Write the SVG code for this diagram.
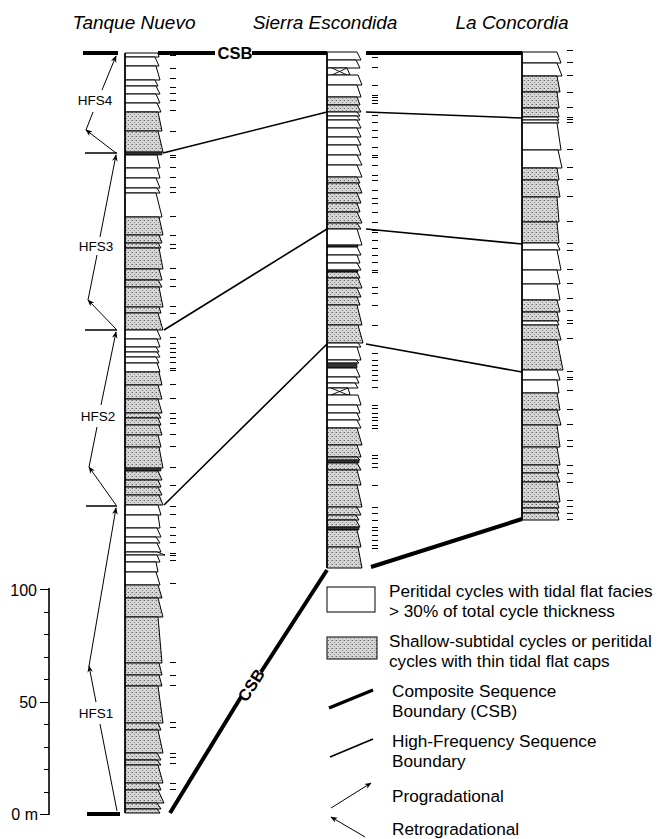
<svg xmlns="http://www.w3.org/2000/svg" width="665" height="839" viewBox="0 0 665 839">
<style>
text{font-family:"Liberation Sans",Arial,sans-serif;fill:#000}
.ttl{font-size:19px;font-style:italic;text-anchor:middle}
.lg{font-size:17.2px}
.hl{font-size:13.5px;text-anchor:middle}
.sc{font-size:16px;text-anchor:end}
.w{fill:#fff;stroke:#000;stroke-width:1}
.g{fill:url(#stip);stroke:#000;stroke-width:1}
.d{fill:#333;stroke:#000;stroke-width:.6}
.tk{stroke:#000;stroke-width:1;fill:none;shape-rendering:crispEdges}
.csb{stroke:#000;stroke-width:4;fill:none}
.hfs{stroke:#000;stroke-width:1.6;fill:none}
.ar{stroke:#000;stroke-width:1;fill:none}
.ae{marker-end:url(#ah)}
.edge{stroke:#000;stroke-width:1.6}
</style>
<defs>
<pattern id="stip" width="4" height="4" patternUnits="userSpaceOnUse">
<rect width="4" height="4" fill="#d6d6d6"/>
<rect x="0" y="0" width="1" height="1" fill="#666"/>
<rect x="2" y="2" width="1" height="1" fill="#888"/>
<rect x="3" y="0" width="1" height="1" fill="#aaa"/>
</pattern>
<marker id="ah" viewBox="0 0 10 10" refX="9" refY="5" markerWidth="7" markerHeight="7" markerUnits="userSpaceOnUse" orient="auto">
<path d="M0,1 L10,5 L0,9 L3,5 z" fill="#000"/>
</marker>
</defs>
<rect width="665" height="839" fill="#fff"/>

<g id="titles">
<text class="ttl" x="134" y="29">Tanque Nuevo</text>
<text class="ttl" x="325" y="29">Sierra Escondida</text>
<text class="ttl" x="512" y="29">La Concordia</text>
</g>

<g id="scale">
<path class="edge" d="M49 588V815"/>
<path class="tk" d="M40 814.5h9M44 792.5h5M44 769.5h5M44 747.5h5M44 724.5h5M40 702.5h9M44 679.5h5M44 657.5h5M44 634.5h5M44 612.5h5M40 589.5h9"/>
<text class="sc" x="37" y="596">100</text>
<text class="sc" x="37" y="708">50</text>
<text class="sc" x="38" y="820">0 m</text>
</g>

<g id="col-tanque-nuevo">
<polygon class="w" points="125,53 158,53 159,57 125,57"/>
<polygon class="w" points="125,57 155,57 159,66 125,66"/>
<polygon class="w" points="125,66 156,66 160,80 125,80"/>
<polygon class="w" points="125,80 155,80 158,86 125,86"/>
<polygon class="w" points="125,86 156,86 160,94 125,94"/>
<polygon class="w" points="125,94 156,94 160,103 125,103"/>
<polygon class="w" points="125,103 157,103 161,112 125,112"/>
<polygon class="g" points="125,112 158,112 162,131 125,131"/>
<polygon class="g" points="125,131 158,131 163,152 125,152"/>
<polygon class="d" points="125,152 162,152 162,155 125,155"/>
<polygon class="w" points="125,155 157,155 160,168 125,168"/>
<polygon class="w" points="125,168 157,168 160,178 125,178"/>
<polygon class="w" points="125,178 156,178 160,188 125,188"/>
<polygon class="w" points="125,188 157,188 160,193 125,193"/>
<polygon class="w" points="125,193 156,193 162,217 125,217"/>
<polygon class="g" points="125,217 159,217 163,235 125,235"/>
<polygon class="g" points="125,235 159,235 162,243 125,243"/>
<polygon class="g" points="125,243 158,243 161,248 125,248"/>
<polygon class="g" points="125,248 159,248 163,269 125,269"/>
<polygon class="g" points="125,269 159,269 162,280 125,280"/>
<polygon class="g" points="125,280 158,280 162,287 125,287"/>
<polygon class="g" points="125,287 159,287 163,307 125,307"/>
<polygon class="g" points="125,307 159,307 161,313 125,313"/>
<polygon class="g" points="125,313 158,313 163,330 125,330"/>
<polygon class="w" points="125,330 157,330 161,339 125,339"/>
<polygon class="w" points="125,339 157,339 160,347 125,347"/>
<polygon class="w" points="125,347 156,347 159,352 125,352"/>
<polygon class="w" points="125,352 157,352 160,357 125,357"/>
<polygon class="w" points="125,357 156,357 159,363 125,363"/>
<polygon class="w" points="125,363 157,363 160,372 125,372"/>
<polygon class="g" points="125,372 159,372 162,385 125,385"/>
<polygon class="g" points="125,385 158,385 162,399 125,399"/>
<polygon class="g" points="125,399 158,399 162,413 125,413"/>
<polygon class="g" points="125,413 158,413 161,418 125,418"/>
<polygon class="g" points="125,418 158,418 161,425 125,425"/>
<polygon class="g" points="125,425 159,425 162,435 125,435"/>
<polygon class="g" points="125,435 158,435 161,447 125,447"/>
<polygon class="g" points="125,447 159,447 163,468 125,468"/>
<polygon class="d" points="125,468 161,468 161,471 125,471"/>
<polygon class="g" points="125,471 158,471 162,480 125,480"/>
<polygon class="g" points="125,480 158,480 161,487 125,487"/>
<polygon class="g" points="125,487 158,487 162,495 125,495"/>
<polygon class="g" points="125,495 159,495 163,505 125,505"/>
<polygon class="w" points="125,505 158,505 161,515 125,515"/>
<polygon class="w" points="125,515 158,515 160,528 125,528"/>
<polygon class="w" points="125,528 157,528 161,537 125,537"/>
<polygon class="w" points="125,537 156,537 160,543 125,543"/>
<polygon class="w" points="125,543 157,543 161,552 125,552"/>
<polygon class="w" points="125,552 157,552 165,555 125,555"/>
<polygon class="w" points="125,555 157,555 160,562 125,562"/>
<polygon class="w" points="125,562 156,562 158,572 125,572"/>
<polygon class="w" points="125,572 156,572 160,585 125,585"/>
<polygon class="g" points="125,585 158,585 162,598 125,598"/>
<polygon class="g" points="125,598 158,598 163,617 125,617"/>
<polygon class="g" points="125,617 158,617 162,663 125,663"/>
<polygon class="g" points="125,663 159,663 162,675 125,675"/>
<polygon class="g" points="125,675 159,675 162,686 125,686"/>
<polygon class="g" points="125,686 158,686 163,723 125,723"/>
<polygon class="g" points="125,723 158,723 161,730 125,730"/>
<polygon class="g" points="125,730 158,730 163,753 125,753"/>
<polygon class="g" points="125,753 157,753 161,760 125,760"/>
<polygon class="g" points="125,760 157,760 161,765 125,765"/>
<polygon class="g" points="125,765 158,765 163,783 125,783"/>
<polygon class="g" points="125,783 158,783 161,790 125,790"/>
<polygon class="g" points="125,790 158,790 164,803 125,803"/>
<polygon class="g" points="125,803 157,803 161,809 125,809"/>
<polygon class="g" points="125,809 157,809 160,813 125,813"/>
<path class="edge" d="M125 53V813"/>
<path class="tk" d="M170 55h6M170 68h6M170 78h6M170 87h6M170 93h6M170 100h6M170 110h6M170 131h6M170 155h6M170 157h6M170 167h6M170 177h6M170 187h6M170 192h6M170 216h6M170 235h6M170 244h6M170 248h6M170 268h6M170 279h6M170 286h6M170 306h6M170 313h6M170 337h6M170 343h6M170 348h6M170 352h6M170 357h6M170 362h6M170 368h6M170 370h6M170 384h6M170 398h6M170 413h6M170 418h6M170 423h6M170 434h6M170 446h6M170 467h6M170 485h6M170 506h6M170 514h6M170 527h6M170 535h6M170 542h6M170 553h6M170 555h6M170 560h6M170 583h6M170 662h6M170 675h6M170 685h6M170 722h6M170 727h6M170 753h6M170 757h6M170 763h6M170 783h6M170 789h6"/>
</g>

<g id="col-sierra-escondida">
<polygon class="w" points="327,52 357,52 361,60 327,60"/>
<polygon class="w" points="327,60 356,60 360,68 327,68"/>
<polygon class="w" points="327,68 347,68 350,75 327,75"/>
<path d="M332 68L347 75M332 75L347 68" stroke="#000" stroke-width=".9"/>
<polygon class="w" points="327,75 358,75 362,85 327,85"/>
<polygon class="w" points="327,85 357,85 361,97 327,97"/>
<polygon class="g" points="327,97 357,97 360,105 327,105"/>
<polygon class="g" points="327,105 357,105 361,112 327,112"/>
<polygon class="w" points="327,112 357,112 360,116 327,116"/>
<polygon class="w" points="327,116 357,116 360,120 327,120"/>
<polygon class="w" points="327,120 357,120 361,128 327,128"/>
<polygon class="w" points="327,128 357,128 361,137 327,137"/>
<polygon class="w" points="327,137 357,137 361,145 327,145"/>
<polygon class="w" points="327,145 357,145 361,155 327,155"/>
<polygon class="w" points="327,155 357,155 362,165 327,165"/>
<polygon class="w" points="327,165 357,165 362,177 327,177"/>
<polygon class="g" points="327,177 357,177 360,183 327,183"/>
<polygon class="g" points="327,183 358,183 362,193 327,193"/>
<polygon class="g" points="327,193 357,193 361,203 327,203"/>
<polygon class="g" points="327,203 357,203 360,212 327,212"/>
<polygon class="g" points="327,212 357,212 362,223 327,223"/>
<polygon class="g" points="327,223 357,223 361,229 327,229"/>
<polygon class="w" points="327,229 357,229 362,245 327,245"/>
<polygon class="d" points="327,245 358,245 358,247 327,247"/>
<polygon class="w" points="327,247 357,247 361,255 327,255"/>
<polygon class="w" points="327,255 357,255 360,263 327,263"/>
<polygon class="w" points="327,263 357,263 361,270 327,270"/>
<polygon class="d" points="327,270 358,270 358,272 327,272"/>
<polygon class="g" points="327,272 357,272 360,278 327,278"/>
<polygon class="g" points="327,278 358,278 362,288 327,288"/>
<polygon class="g" points="327,288 357,288 361,297 327,297"/>
<polygon class="g" points="327,297 357,297 360,305 327,305"/>
<polygon class="g" points="327,305 357,305 362,325 327,325"/>
<polygon class="g" points="327,325 358,325 363,343 327,343"/>
<polygon class="w" points="327,343 358,343 361,347 327,347"/>
<polygon class="w" points="327,347 357,347 361,360 327,360"/>
<polygon class="w" points="327,360 356,360 359,363 327,363"/>
<polygon class="d" points="327,363 357,363 357,368 327,368"/>
<polygon class="w" points="327,368 356,368 360,377 327,377"/>
<polygon class="w" points="327,377 356,377 359,383 327,383"/>
<polygon class="w" points="327,383 355,383 358,388 327,388"/>
<polygon class="w" points="327,388 348,388 350,395 327,395"/>
<path d="M331 388L348 395M331 395L348 388" stroke="#000" stroke-width=".9"/>
<polygon class="w" points="327,395 358,395 361,405 327,405"/>
<polygon class="w" points="327,405 357,405 360,413 327,413"/>
<polygon class="w" points="327,413 357,413 360,420 327,420"/>
<polygon class="w" points="327,420 357,420 361,428 327,428"/>
<polygon class="g" points="327,428 357,428 362,445 327,445"/>
<polygon class="g" points="327,445 357,445 361,457 327,457"/>
<polygon class="g" points="327,457 357,457 360,460 327,460"/>
<polygon class="d" points="327,460 359,460 359,463 327,463"/>
<polygon class="g" points="327,463 357,463 361,470 327,470"/>
<polygon class="g" points="327,470 357,470 361,485 327,485"/>
<polygon class="g" points="327,485 357,485 362,507 327,507"/>
<polygon class="g" points="327,507 357,507 361,515 327,515"/>
<polygon class="g" points="327,515 356,515 359,520 327,520"/>
<polygon class="g" points="327,520 356,520 360,527 327,527"/>
<polygon class="d" points="327,527 359,527 359,530 327,530"/>
<polygon class="g" points="327,530 357,530 361,547 327,547"/>
<polygon class="g" points="327,547 358,547 362,568 327,568"/>
<path class="edge" d="M327 52V568"/>
<path class="tk" d="M372 57h6M372 67h6M372 85h6M372 95h6M372 97h6M372 100h6M372 103h6M372 115h6M372 122h6M372 130h6M372 137h6M372 147h6M372 155h6M372 157h6M372 165h6M372 175h6M372 180h6M372 190h6M372 198h6M372 203h6M372 212h6M372 222h6M372 230h6M372 232h6M372 240h6M372 248h6M372 255h6M372 262h6M372 270h6M372 272h6M372 287h6M372 293h6M372 305h6M372 325h6M372 353h6M372 360h6M372 365h6M372 370h6M372 375h6M372 380h6M372 387h6M372 405h6M372 408h6M372 413h6M372 417h6M372 420h6M372 425h6M372 428h6M372 455h6M372 458h6M372 463h6M372 467h6M372 485h6M372 507h6M372 513h6M372 520h6M372 527h6M372 530h6M372 535h6M372 540h6M372 545h6M372 548h6"/>
</g>

<g id="col-la-concordia">
<polygon class="w" points="522,52 557,52 561,63 522,63"/>
<polygon class="w" points="522,63 557,63 562,76 522,76"/>
<polygon class="g" points="522,76 557,76 560,92 522,92"/>
<polygon class="g" points="522,92 557,92 559,108 522,108"/>
<polygon class="g" points="522,108 557,108 559,117 522,117"/>
<polygon class="w" points="522,117 557,117 559,120 522,120"/>
<polygon class="w" points="522,120 557,120 559,123 522,123"/>
<polygon class="w" points="522,123 557,123 561,150 522,150"/>
<polygon class="w" points="522,150 558,150 562,168 522,168"/>
<polygon class="g" points="522,168 557,168 559,180 522,180"/>
<polygon class="g" points="522,180 557,180 560,197 522,197"/>
<polygon class="g" points="522,197 557,197 559,222 522,222"/>
<polygon class="g" points="522,222 557,222 559,243 522,243"/>
<polygon class="w" points="522,243 557,243 560,250 522,250"/>
<polygon class="w" points="522,250 557,250 561,270 522,270"/>
<polygon class="w" points="522,270 557,270 560,284 522,284"/>
<polygon class="w" points="522,284 557,284 560,300 522,300"/>
<polygon class="g" points="522,300 557,300 560,312 522,312"/>
<polygon class="g" points="522,312 557,312 559,321 522,321"/>
<polygon class="w" points="522,321 557,321 559,325 522,325"/>
<polygon class="g" points="522,325 557,325 561,340 522,340"/>
<polygon class="g" points="522,340 557,340 563,370 522,370"/>
<polygon class="w" points="522,370 557,370 560,380 522,380"/>
<polygon class="w" points="522,380 557,380 559,393 522,393"/>
<polygon class="g" points="522,393 557,393 560,410 522,410"/>
<polygon class="g" points="522,410 557,410 561,425 522,425"/>
<polygon class="g" points="522,425 557,425 560,447 522,447"/>
<polygon class="g" points="522,447 557,447 560,465 522,465"/>
<polygon class="g" points="522,465 557,465 559,473 522,473"/>
<polygon class="g" points="522,473 557,473 560,482 522,482"/>
<polygon class="g" points="522,482 557,482 560,502 522,502"/>
<polygon class="g" points="522,502 557,502 559,508 522,508"/>
<polygon class="g" points="522,508 557,508 559,513 522,513"/>
<polygon class="g" points="522,513 557,513 559,520 522,520"/>
<path class="edge" d="M522 52V520"/>
<path class="tk" d="M567 50h6M567 62h6M567 75h6M567 92h6M567 107h6M567 117h6M567 119h6M567 122h6M567 149h6M567 167h6M567 179h6M567 196h6M567 221h6M567 243h6M567 250h6M567 269h6M567 283h6M567 298h6M567 310h6M567 320h6M567 323h6M567 338h6M567 371h6M567 377h6M567 379h6M567 390h6M567 409h6M567 424h6M567 440h6M567 446h6M567 465h6M567 473h6M567 482h6M567 500h6M567 506h6M567 513h6M567 519h6"/>
</g>

<g id="connectors">
<path class="csb" d="M83 53H118M158 53H215M252 53H327M366 53H522"/>
<path class="csb" d="M87 814H120M170 813L241 697M261 672L327 570M371 567L522 519"/>
<path class="hfs" d="M85 153H117M85 330H117M86 506H117"/>
<path class="hfs" d="M163 153L327 112M366 112L522 118M164 330L327 229M366 229L522 244M164 505L327 344M366 344L522 372"/>
<path class="ar ae" d="M116 153L86 130"/>
<path class="ar" d="M86 130L93 112"/>
<path class="ar ae" d="M102 90L116 56"/>
<path class="ar ae" d="M116 329L88 300"/>
<path class="ar" d="M88 300L97 255"/>
<path class="ar ae" d="M100 237L116 155"/>
<path class="ar ae" d="M116 505L89 467"/>
<path class="ar" d="M89 467L97 427"/>
<path class="ar ae" d="M101 405L116 332"/>
<path class="ar" d="M117 811L100 724"/>
<path class="ar ae" d="M96 702L89 666"/>
<path class="ar ae" d="M89 666L116 508"/>
</g>

<g id="labels">
<text x="235" y="59" style="font-size:16.5px;font-weight:bold;text-anchor:middle">CSB</text>
<text transform="translate(251,685) rotate(-57)" style="font-size:16.5px;font-weight:bold;text-anchor:middle" y="6">CSB</text>
<text class="hl" x="95" y="105">HFS4</text>
<text class="hl" x="96" y="251">HFS3</text>
<text class="hl" x="98" y="421">HFS2</text>
<text class="hl" x="96" y="718">HFS1</text>
</g>

<g id="legend-peritidal">
<rect class="w" x="327" y="587" width="48" height="25"/>
<text class="lg" x="389" y="597">Peritidal cycles with tidal flat facies</text>
<text class="lg" x="389" y="617">&gt; 30% of total cycle thickness</text>
</g>
<g id="legend-subtidal">
<rect class="g" x="327" y="637" width="50" height="22"/>
<text class="lg" x="389" y="647">Shallow-subtidal cycles or peritidal</text>
<text class="lg" x="389" y="667">cycles with thin tidal flat caps</text>
</g>
<g id="legend-csb">
<path class="csb" d="M329 708L373 690" style="stroke-width:3.5"/>
<text class="lg" x="392" y="697">Composite Sequence</text>
<text class="lg" x="392" y="717">Boundary (CSB)</text>
</g>
<g id="legend-hfs">
<path class="hfs" d="M330 757L373 739"/>
<text class="lg" x="392" y="747">High-Frequency Sequence</text>
<text class="lg" x="392" y="767">Boundary</text>
</g>
<g id="legend-prograd">
<path class="ar ae" d="M331 808L371 783"/>
<text class="lg" x="392" y="802">Progradational</text>
</g>
<g id="legend-retrograd">
<path class="ar ae" d="M365 837L331 817"/>
<text class="lg" x="392" y="835">Retrogradational</text>
</g>
</svg>
